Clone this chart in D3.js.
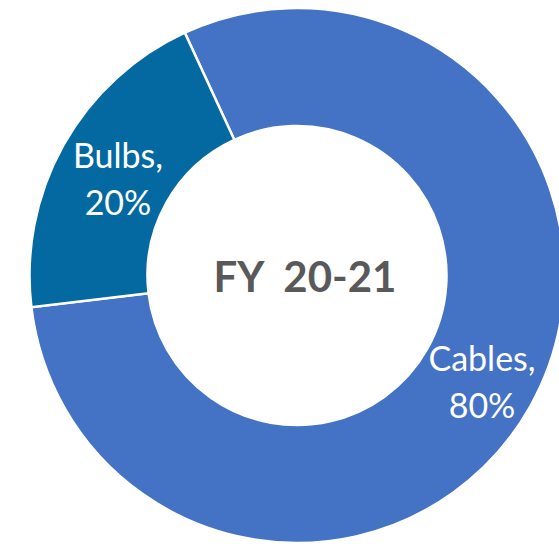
<!DOCTYPE html>
<html><head><meta charset="utf-8">
<script src="https://cdn.jsdelivr.net/npm/d3@7"></script>
<style>html,body{margin:0;padding:0;background:#fff;}svg{display:block;}</style>
</head><body>
<script>
const categories = ["Cables", "Bulbs"];
const values = [80, 20];
const percentLabels = ["80%", "20%"];
const colors = ["#4472C4", "#0569A1"];
const centerTitle = "FY  20-21";

const W = 559, H = 544;
const cx = 297, cy = 275.5, outerR = 267.5, innerR = 149.5;
const startDeg = -24.8;

const svg = d3.select("body").append("svg").attr("width", W).attr("height", H);
const g = svg.append("g").attr("transform", `translate(${cx},${cy})`);

const data = categories.map((c, i) => ({cat: c, value: values[i], pct: percentLabels[i], color: colors[i]}));
const start = startDeg * Math.PI / 180;
const pie = d3.pie().value(d => d.value).sort(null).startAngle(start).endAngle(start + 2 * Math.PI);
const arc = d3.arc().innerRadius(innerR).outerRadius(outerR);
const arcs = pie(data);

g.selectAll("path.slice").data(arcs).join("path")
  .attr("class", "slice")
  .attr("d", arc)
  .attr("fill", d => d.data.color)
  .attr("stroke", "#fff")
  .attr("stroke-width", 2.5)
  .attr("stroke-linejoin", "miter");

const lbl = g.selectAll("text.lbl").data(arcs).join("text")
  .attr("class", "lbl")
  .attr("text-anchor", "middle")
  .attr("fill", "#fff")
  .attr("font-family", "Lato, 'Open Sans', sans-serif")
  .attr("font-size", 34)
  .attr("transform", d => { const c = arc.centroid(d); return `translate(${c[0] + 3},${c[1] - 6})`; });
lbl.append("tspan").attr("x", 0).attr("y", 0).text(d => d.data.cat + ",");
lbl.append("tspan").attr("x", 0).attr("y", 47).text(d => d.data.pct);

svg.append("text")
  .attr("x", cx + 8).attr("y", 292)
  .attr("text-anchor", "middle")
  .attr("fill", "#595959")
  .attr("font-family", "Lato, 'Open Sans', sans-serif")
  .attr("font-weight", "bold")
  .attr("font-size", 42)
  .style("white-space", "pre")
  .attr("xml:space", "preserve")
  .text(centerTitle);
</script>
</body></html>
